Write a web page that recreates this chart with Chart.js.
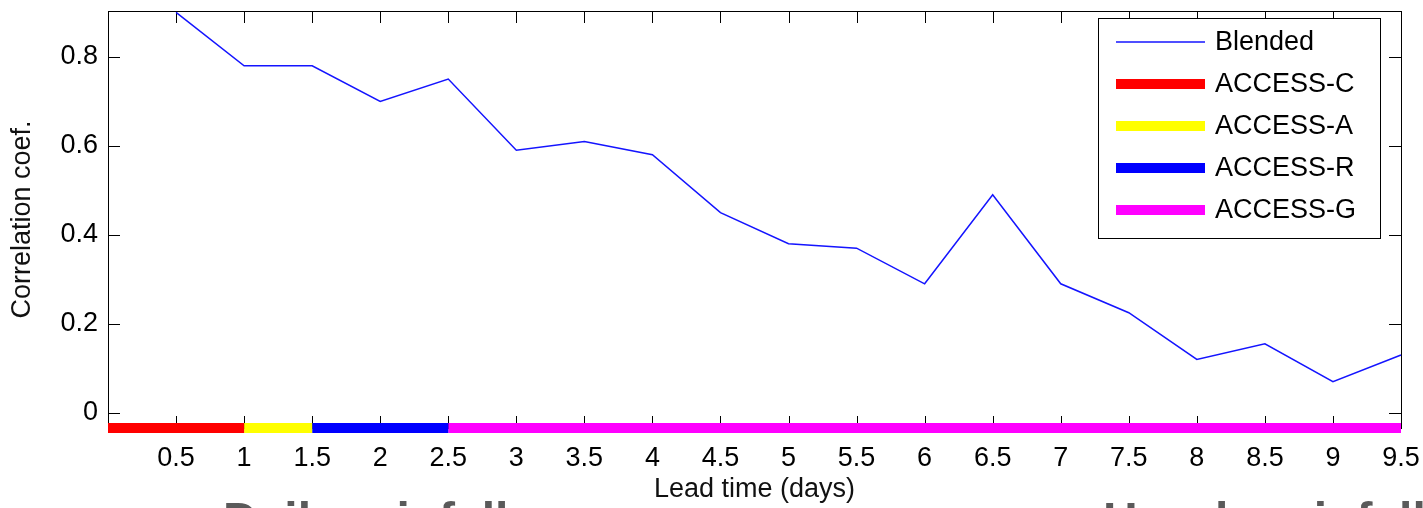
<!DOCTYPE html>
<html>
<head>
<meta charset="utf-8">
<script src="https://cdn.jsdelivr.net/npm/chart.js@4.4.0/dist/chart.umd.min.js"></script>
<style>
  html, body { margin: 0; padding: 0; background: #fff; overflow: hidden; }
  #wrap { position: relative; width: 1423px; height: 508px; overflow: hidden; }
  canvas { position: absolute; left: 0; top: 0; }
  .caption {
    position: absolute; top: 496px; white-space: nowrap;
    font: bold 48px "Liberation Sans", Arial, sans-serif; line-height: 48px; color: #5a5a5a;
  }
</style>
</head>
<body>
<div id="wrap">
  <canvas id="chart" width="1423" height="508"></canvas>
  <div class="caption" style="left:223px">Daily rainfall</div>
  <div class="caption" style="left:1103px">Hourly rainfall</div>
</div>
<script>
// Lead times (days) and blended correlation
const leadTimes = [0.5, 1, 1.5, 2, 2.5, 3, 3.5, 4, 4.5, 5, 5.5, 6, 6.5, 7, 7.5, 8, 8.5, 9, 9.5];
const blended = [0.90, 0.78, 0.78, 0.70, 0.75, 0.59, 0.61, 0.58, 0.45, 0.38, 0.37, 0.29, 0.49, 0.29, 0.225, 0.12, 0.155, 0.07, 0.13];

// Which model is used over which lead time range
const modelNames = ["ACCESS-C", "ACCESS-A", "ACCESS-R", "ACCESS-G"];
const modelStart = [0, 1, 1.5, 2.5];
const modelEnd = [1, 1.5, 2.5, 9.5];
const modelColors = ["#ff0000", "#ffff00", "#0000ff", "#ff00ff"];

const xTicks = leadTimes;
const yTicks = [0, 0.2, 0.4, 0.6, 0.8];
const xMin = 0, xMax = 9.5;
const yMin = -0.034, yMax = 0.903;

const FONT = { family: "Liberation Sans, Arial, sans-serif", size: 27 };

const datasets = [
  {
    label: "Blended",
    data: leadTimes.map((x, i) => ({ x: x, y: blended[i] })),
    borderColor: "#1414ff",
    borderWidth: 1.5,
    pointRadius: 0,
    tension: 0,
    clip: false,
  },
];
modelNames.forEach((name, i) => {
  datasets.push({
    label: name,
    data: [{ x: modelStart[i], y: yMin }, { x: modelEnd[i], y: yMin }],
    borderColor: modelColors[i],
    borderWidth: 10,
    borderCapStyle: "butt",
    pointRadius: 0,
    clip: false,
  });
});

// MATLAB-style box with inward ticks on all sides
const framePlugin = {
  id: "frame",
  beforeDatasetsDraw(chart) {
    const { ctx, chartArea: a, scales } = chart;
    ctx.save();
    ctx.strokeStyle = "#000";
    ctx.lineWidth = 1;
    ctx.strokeRect(a.left + 0.5, a.top + 0.5, a.right - a.left, a.bottom - a.top);
    ctx.beginPath();
    xTicks.forEach((v) => {
      const px = Math.round(scales.x.getPixelForValue(v)) + 0.5;
      ctx.moveTo(px, a.bottom); ctx.lineTo(px, a.bottom - 12);
      ctx.moveTo(px, a.top); ctx.lineTo(px, a.top + 12);
    });
    yTicks.forEach((v) => {
      const py = Math.round(scales.y.getPixelForValue(v)) + 0.5;
      ctx.moveTo(a.left, py); ctx.lineTo(a.left + 12, py);
      ctx.moveTo(a.right, py); ctx.lineTo(a.right - 12, py);
    });
    ctx.stroke();
    ctx.restore();
  },
};

// Legend box in the top right corner
const legendPlugin = {
  id: "boxLegend",
  afterDraw(chart) {
    const { ctx } = chart;
    const bx = 1098, by = 18, bw = 282, bh = 220;
    ctx.save();
    ctx.fillStyle = "#fff";
    ctx.fillRect(bx, by, bw, bh);
    ctx.strokeStyle = "#000";
    ctx.lineWidth = 1;
    ctx.strokeRect(bx + 0.5, by + 0.5, bw, bh);
    ctx.font = FONT.size + "px " + FONT.family;
    ctx.textBaseline = "middle";
    chart.data.datasets.forEach((ds, i) => {
      const y = 42 + i * 42;
      ctx.strokeStyle = ds.borderColor;
      ctx.lineWidth = ds.borderWidth;
      ctx.lineCap = "butt";
      ctx.beginPath();
      ctx.moveTo(1116, y);
      ctx.lineTo(1205, y);
      ctx.stroke();
      ctx.fillStyle = "#000";
      ctx.fillText(ds.label, 1215, y + 1);
    });
    ctx.restore();
  },
};

new Chart(document.getElementById("chart"), {
  type: "line",
  data: { datasets: datasets },
  options: {
    responsive: false,
    animation: false,
    layout: { padding: { top: 11, right: 22, left: 0, bottom: 0 } },
    plugins: { legend: { display: false }, tooltip: { enabled: false } },
    scales: {
      x: {
        type: "linear",
        min: xMin,
        max: xMax,
        afterBuildTicks: (s) => { s.ticks = xTicks.map((v) => ({ value: v })); },
        afterFit: (s) => { s.height = 80; s.paddingLeft = 0; s.paddingRight = 0; },
        grid: { display: false, drawTicks: false },
        border: { display: false },
        ticks: { font: FONT, color: "#000", padding: 14, maxRotation: 0, autoSkip: false, callback: (v) => String(v) },
        title: { display: true, text: "Lead time (days)", font: FONT, color: "#111", padding: { top: 0, bottom: 2 } },
      },
      y: {
        min: yMin,
        max: yMax,
        afterBuildTicks: (s) => { s.ticks = yTicks.map((v) => ({ value: v })); },
        afterFit: (s) => { s.width = 108; s.paddingTop = 0; s.paddingBottom = 0; },
        grid: { display: false, drawTicks: false },
        border: { display: false },
        ticks: { font: FONT, color: "#000", padding: 10, callback: (v) => String(v) },
        title: { display: true, text: "Correlation coef.", font: FONT, color: "#111", padding: { top: 6, bottom: 0 } },
      },
    },
  },
  plugins: [framePlugin, legendPlugin],
});
</script>
</body>
</html>
